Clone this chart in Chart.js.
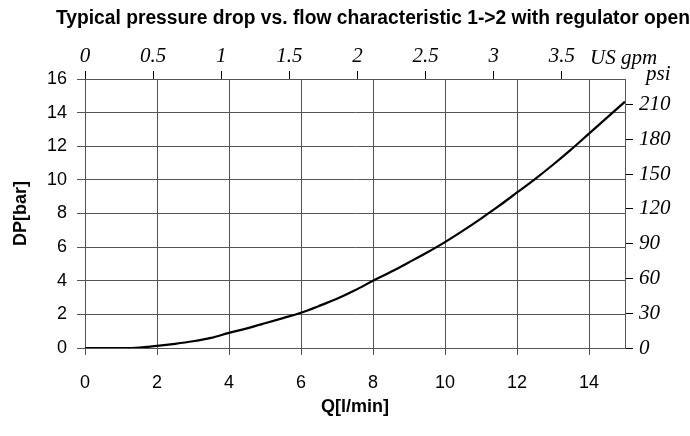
<!DOCTYPE html>
<html>
<head>
<meta charset="utf-8">
<script src="https://cdn.jsdelivr.net/npm/chart.js@4/dist/chart.umd.min.js"></script>
<style>
    html, body { margin: 0; padding: 0; background: #fff; }
    #wrap { width: 690px; height: 436px; }
</style>
</head>
<body>
<div id="wrap"><canvas id="chart"></canvas></div>
<script>
// flow Q [l/min] and pressure drop DP [bar]
const flowLpm = [0, 1, 1.3, 2, 2.5, 3, 3.5, 4, 4.5, 5, 5.5, 6, 6.5, 7, 7.5, 8, 8.5, 9, 9.5, 10, 10.5, 11, 11.5, 12, 12.5, 13, 13.5, 14, 14.5, 15];
const dpBar = [0, 0, 0, 0.13, 0.25, 0.4, 0.6, 0.9, 1.17, 1.47, 1.78, 2.1, 2.5, 2.93, 3.43, 4.0, 4.53, 5.1, 5.68, 6.3, 6.98, 7.7, 8.45, 9.25, 10.05, 10.9, 11.8, 12.75, 13.7, 14.65];

const lpmTicks = [0, 2, 4, 6, 8, 10, 12, 14];
const barTicks = [0, 2, 4, 6, 8, 10, 12, 14, 16];
const gpmTicks = [0, 0.5, 1, 1.5, 2, 2.5, 3, 3.5];
const psiTicks = [0, 30, 60, 90, 120, 150, 180, 210];

const LPM_PER_GPM = 3.785;
const PSI_PER_BAR = 14.5038;
const X_MAX = 15;
const Y_MAX = 16;

const sans = 'Liberation Sans, Arial, sans-serif';
const serif = 'Liberation Serif, Times New Roman, serif';
const gridColor = '#555';

const setTicks = (list) => (scale) => { scale.ticks = list.map(v => ({ value: v })); };
const plainLabel = (v) => String(v);

// free texts: chart title, US gpm and psi unit labels
const extraText = {
    id: 'extraText',
    afterDraw(chart) {
        const { ctx, chartArea } = chart;
        ctx.save();
        ctx.fillStyle = '#000';
        ctx.font = 'bold 20px ' + sans;
        ctx.textAlign = 'left';
        ctx.textBaseline = 'middle';
        ctx.fillText('Typical pressure drop vs. flow characteristic 1->2 with regulator open', 56, 18, 634);

        ctx.font = 'italic 21px ' + serif;
        ctx.textBaseline = 'bottom';
        ctx.fillText('US gpm', chartArea.right - 35, chartArea.top - 10);
        ctx.textBaseline = 'middle';
        ctx.fillText('psi', chartArea.right + 21, chartArea.top - 5);
        ctx.restore();
    }
};

new Chart(document.getElementById('chart'), {
    type: 'line',
    data: {
        datasets: [{
            data: flowLpm.map((q, i) => ({ x: q, y: dpBar[i] })),
            borderColor: '#000',
            borderWidth: 2.2,
            pointRadius: 0,
            cubicInterpolationMode: 'monotone',
            fill: false
        }]
    },
    options: {
        responsive: true,
        maintainAspectRatio: false,
        animation: false,
        layout: { padding: 0 },
        plugins: {
            legend: { display: false },
            tooltip: { enabled: false }
        },
        scales: {
            x: {
                type: 'linear',
                position: 'bottom',
                min: 0,
                max: X_MAX,
                afterBuildTicks: setTicks(lpmTicks),
                afterFit(scale) { scale.height = 88; },
                grid: { color: gridColor, tickColor: gridColor, tickLength: 7 },
                border: { color: gridColor },
                ticks: { color: '#000', padding: 17, maxRotation: 0, callback: plainLabel, font: { family: sans, size: 18 } },
                title: {
                    display: true,
                    text: 'Q[l/min]',
                    color: '#000',
                    padding: { top: 0, bottom: 18 },
                    font: { family: sans, size: 18, weight: 'bold' }
                }
            },
            x2: {
                type: 'linear',
                position: 'top',
                min: 0,
                max: X_MAX / LPM_PER_GPM,
                afterBuildTicks: setTicks(gpmTicks),
                afterFit(scale) { scale.height = 79; },
                grid: { drawOnChartArea: false, color: '#000', tickColor: '#000', tickLength: 8 },
                border: { color: gridColor },
                ticks: { color: '#000', padding: 2, maxRotation: 0, callback: plainLabel, font: { family: serif, size: 21, style: 'italic' } }
            },
            y: {
                type: 'linear',
                position: 'left',
                min: 0,
                max: Y_MAX,
                afterBuildTicks: setTicks(barTicks),
                afterFit(scale) { scale.width = 85; },
                grid: { color: gridColor, tickColor: gridColor, tickLength: 8 },
                border: { color: gridColor },
                ticks: { color: '#000', padding: 10, callback: plainLabel, font: { family: sans, size: 18 } },
                title: {
                    display: true,
                    text: 'DP[bar]',
                    color: '#000',
                    padding: { top: 10, bottom: 0 },
                    font: { family: sans, size: 18, weight: 'bold' }
                }
            },
            y2: {
                type: 'linear',
                position: 'right',
                min: 0,
                max: Y_MAX * PSI_PER_BAR,
                afterBuildTicks: setTicks(psiTicks),
                afterFit(scale) { scale.width = 65; },
                grid: { drawOnChartArea: false, color: '#000', tickColor: '#000', tickLength: 8 },
                border: { color: gridColor },
                ticks: { color: '#000', padding: 6, callback: plainLabel, font: { family: serif, size: 21, style: 'italic' } }
            }
        }
    },
    plugins: [extraText]
});
</script>
</body>
</html>
